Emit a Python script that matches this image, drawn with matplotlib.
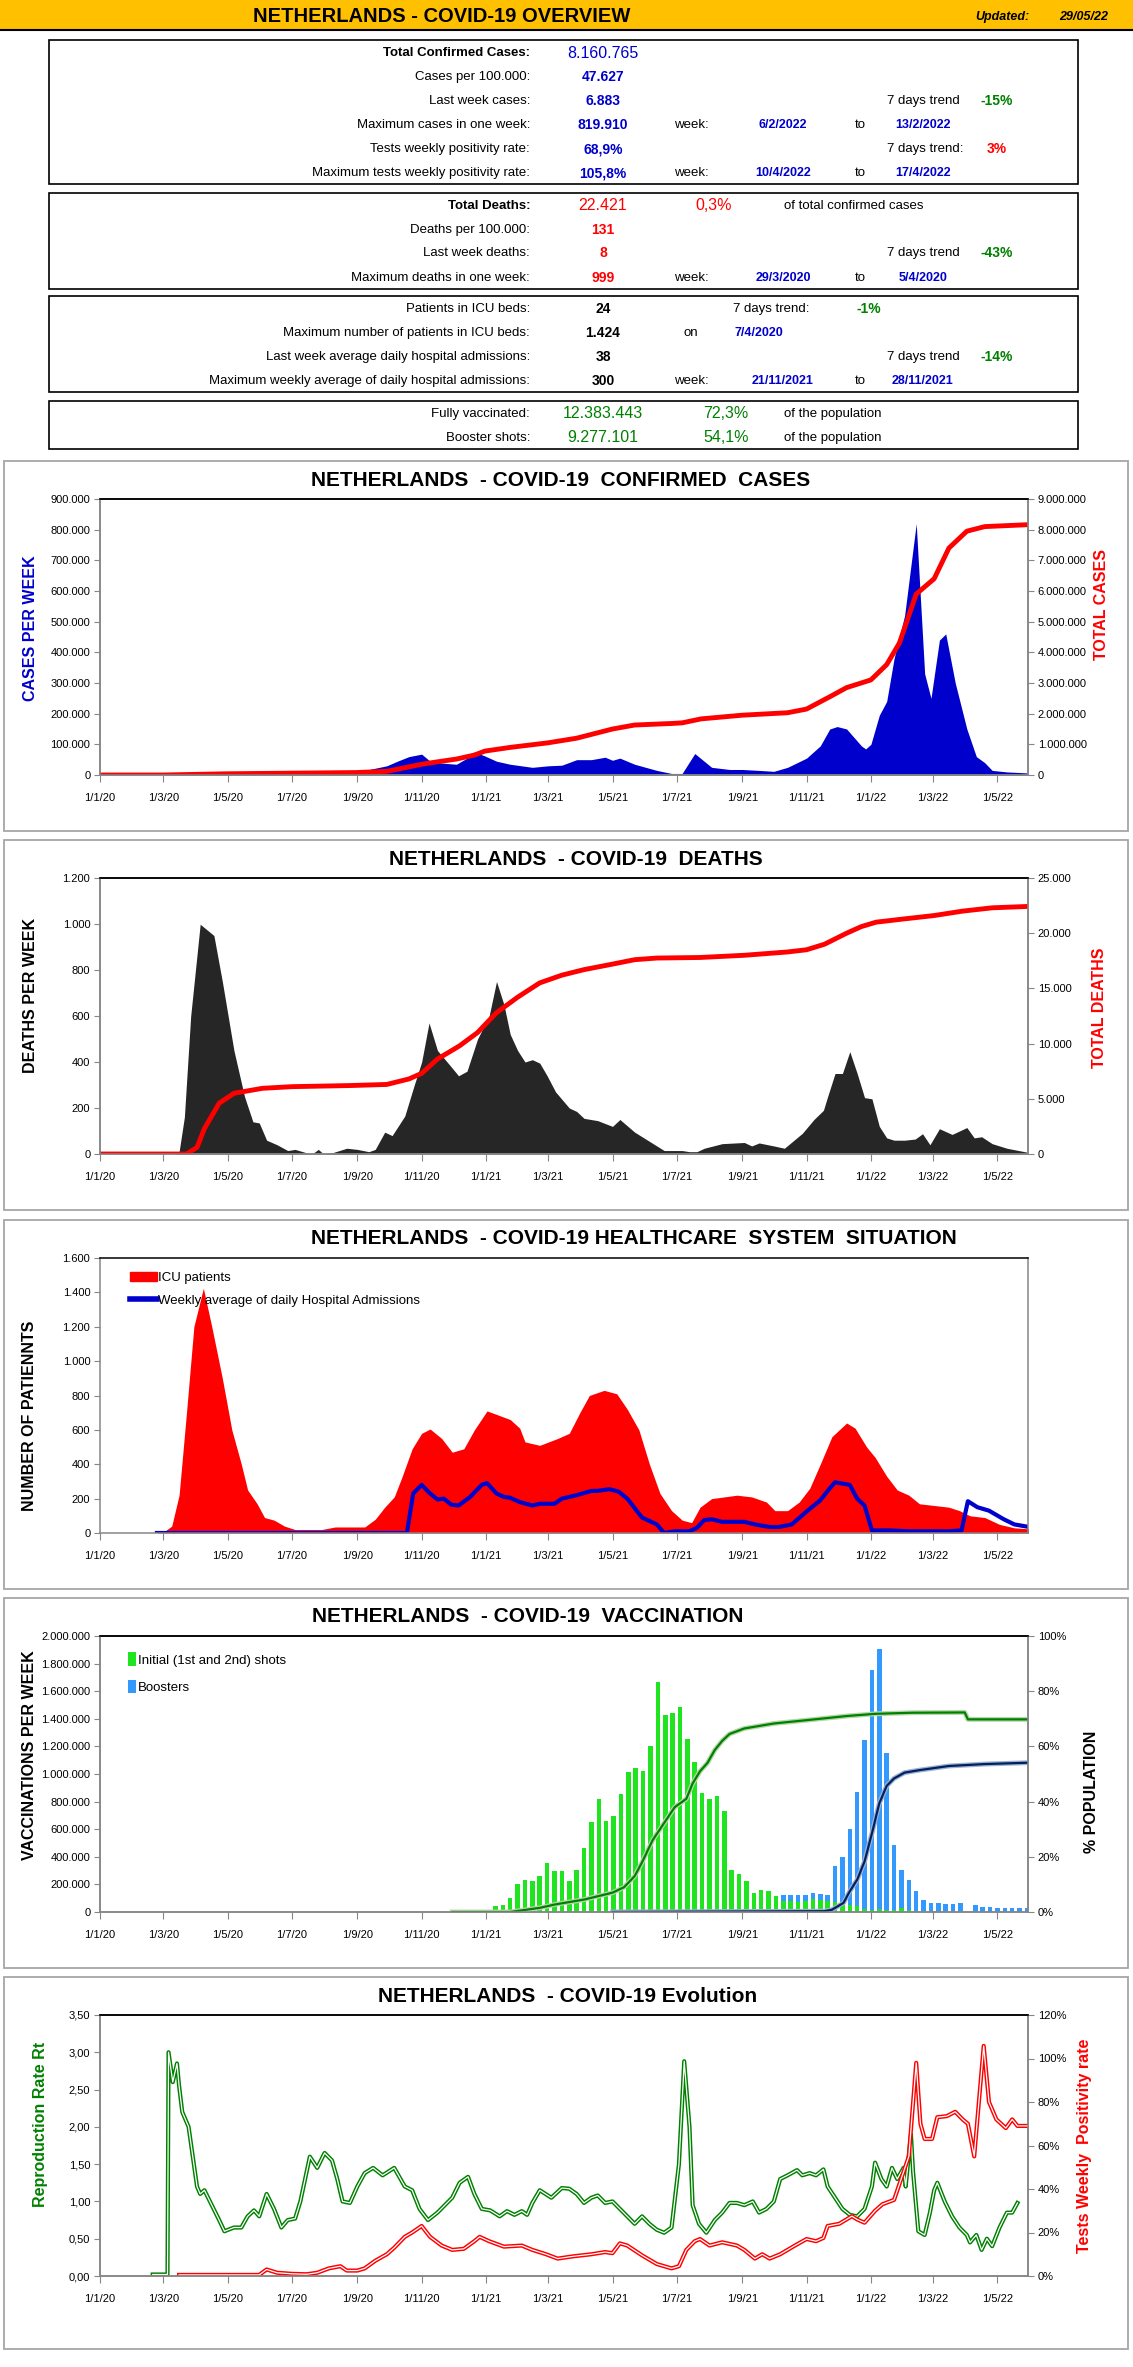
import numpy as np
import pandas as pd
import matplotlib
matplotlib.use("Agg")
import matplotlib.pyplot as plt
import matplotlib.dates as mdates
from matplotlib.patches import Rectangle, Patch
from matplotlib.lines import Line2D
from matplotlib.ticker import FuncFormatter, MultipleLocator

W, H = 1133, 2367
plt.rcParams["font.family"] = ["Liberation Sans", "DejaVu Sans"]

START = np.datetime64("2020-01-01")
END = np.datetime64("2022-05-30")

# --- weekly confirmed cases (days since 1/1/2020) ---
case_day = [0, 60, 75, 100, 120, 150, 180, 210, 230, 243, 258, 272, 282, 293, 305,
            313, 320, 338, 348, 355, 365, 376, 389, 410, 425, 438, 452, 466, 479,
            486, 493, 507, 528, 542, 552, 564, 580, 597, 609, 625, 639, 652, 670,
            683, 692, 699, 708, 722, 726, 731, 739, 746, 753, 763, 774, 782, 788,
            796, 802, 811, 822, 831, 839, 846, 860, 879]
case_week = [0, 0, 5000, 7500, 5000, 1500, 700, 2500, 4000, 8000, 20000, 30000, 45000,
             60000, 68000, 45000, 40000, 35000, 55000, 75000, 62000, 45000, 35000,
             25000, 30000, 32000, 50000, 50000, 58000, 48000, 55000, 35000, 15000,
             5000, 5000, 70000, 25000, 18000, 18000, 15000, 12000, 25000, 55000,
             95000, 150000, 158000, 150000, 95000, 85000, 100000, 195000, 240000,
             380000, 520000, 819910, 330000, 250000, 440000, 460000, 300000, 150000,
             60000, 40000, 15000, 10000, 6883]
total_day = [0, 60, 120, 243, 272, 305, 320, 338, 355, 365, 389, 425, 452, 486, 507,
             542, 552, 570, 609, 652, 670, 692, 708, 731, 746, 758, 767, 774, 791,
             805, 822, 839, 879]
total_cases = [0, 0, 40000, 80000, 120000, 350000, 430000, 520000, 650000, 780000,
               900000, 1050000, 1200000, 1500000, 1630000, 1680000, 1700000, 1830000,
               1950000, 2030000, 2150000, 2550000, 2850000, 3100000, 3600000, 4300000,
               5200000, 5900000, 6400000, 7400000, 7950000, 8100000, 8160765]

# --- deaths ---
death_day = [0, 71, 75, 80, 86, 95, 108, 116, 127, 137, 145, 151, 158, 168, 178, 185,
             196, 201, 207, 212, 220, 234, 244, 255, 261, 270, 277, 289, 298, 305,
             312, 320, 331, 340, 348, 358, 369, 376, 383, 389, 396, 403, 410, 417,
             424, 432, 445, 452, 459, 472, 486, 493, 507, 521, 535, 552, 559, 566,
             573, 590, 611, 618, 625, 639, 649, 666, 677, 686, 690, 697, 704, 711,
             718, 725, 732, 739, 746, 753, 763, 773, 780, 787, 796, 808, 822, 829,
             836, 846, 860, 879]
death_week = [0, 0, 10, 160, 600, 999, 950, 750, 450, 250, 140, 135, 60, 40, 15, 20,
              5, 0, 20, 0, 5, 25, 20, 10, 20, 95, 80, 165, 300, 400, 570, 450, 390,
              340, 360, 500, 600, 750, 650, 520, 450, 400, 410, 395, 340, 270, 200,
              185, 155, 145, 120, 150, 95, 55, 15, 15, 10, 10, 25, 45, 50, 35, 48,
              35, 25, 90, 150, 190, 250, 350, 350, 445, 350, 245, 240, 120, 70, 60,
              60, 65, 88, 40, 110, 85, 115, 70, 75, 45, 25, 8]
tdeath_day = [0, 82, 92, 99, 113, 127, 154, 182, 237, 272, 293, 305, 320, 341, 358,
              376, 396, 417, 438, 459, 486, 507, 528, 569, 611, 652, 670, 687, 708,
              722, 736, 763, 791, 818, 846, 879]
total_deaths = [0, 0, 600, 2300, 4600, 5500, 5950, 6100, 6200, 6300, 6800, 7300, 8600,
                9800, 11000, 12800, 14200, 15500, 16200, 16700, 17200, 17600, 17750,
                17800, 18000, 18300, 18500, 19000, 20000, 20600, 21000, 21300, 21600,
                22000, 22300, 22421]

# --- healthcare ---
icu_day = [54, 60, 68, 75, 82, 89, 98, 106, 116, 125, 134, 140, 149, 156, 165, 175,
           185, 210, 223, 251, 261, 270, 279, 286, 296, 305, 313, 324, 334, 345, 355,
           367, 376, 389, 398, 403, 417, 434, 445, 455, 464, 478, 490, 500, 511, 521,
           531, 542, 552, 561, 569, 580, 604, 618, 632, 640, 652, 663, 673, 683, 694,
           708, 716, 727, 735, 746, 756, 767, 777, 791, 805, 815, 825, 839, 853, 867,
           881]
icu_patients = [0, 5, 40, 220, 700, 1200, 1424, 1200, 900, 600, 400, 250, 170, 90, 75,
                40, 20, 20, 35, 35, 80, 150, 210, 320, 490, 580, 605, 550, 470, 490,
                600, 710, 690, 660, 610, 530, 510, 550, 580, 700, 800, 830, 810, 720,
                600, 400, 230, 130, 75, 60, 150, 200, 220, 210, 180, 130, 130, 180, 260,
                400, 560, 640, 610, 500, 440, 330, 250, 220, 170, 160, 150, 130, 100,
                90, 50, 30, 24]
adm_day = [54, 291, 297, 305, 313, 320, 326, 333, 340, 351, 362, 367, 376, 383, 389,
           398, 410, 417, 431, 438, 452, 466, 472, 483, 492, 500, 514, 528, 535, 545,
           559, 566, 573, 580, 590, 611, 621, 635, 644, 656, 670, 683, 692, 697, 711,
           718, 725, 732, 749, 767, 805, 817, 823, 832, 843, 857, 867, 881]
adm_avg = [0, 0, 230, 280, 230, 195, 200, 165, 160, 210, 280, 290, 230, 210, 205, 180,
           160, 170, 170, 200, 220, 245, 245, 255, 240, 200, 90, 50, 0, 10, 10, 30, 75,
           80, 65, 65, 50, 35, 35, 50, 125, 190, 260, 295, 280, 200, 160, 15, 15, 10,
           10, 15, 185, 150, 130, 80, 50, 35]

# --- vaccination (weekly from 10/1/2021) ---
vac_initial = [46000, 53000, 100000, 200000, 235000, 227000, 263000, 355000, 300000,
               295000, 227000, 306000, 465000, 653000, 820000, 660000, 696000, 855000,
               1015000, 1040000, 1020000, 1200000, 1667000, 1427000, 1443000, 1487000,
               1253000, 1085000, 860000, 820000, 841000, 733000, 306000, 277000, 222000,
               137000, 161000, 149000, 113000, 82000, 77000, 70000, 77000, 94000, 89000,
               77000, 70000, 60000, 53000, 46000, 24000, 17000, 22000, 12000, 17000,
               29000, 17000, 4000, 4000, 4000, 4000, 2000, 2000, 2000, 2000, 2000, 2000,
               2000, 2000, 2000, 2000, 2000, 2000]
vac_booster = [0] * 39 + [38000, 43000, 50000, 48000, 43000, 44000, 48000, 265000,
                          335000, 549000, 826000, 1222000, 1735000, 1882000, 1140000,
                          470000, 277000, 217000, 145000, 85000, 61000, 61000, 58000,
                          58000, 63000, 0, 51000, 37000, 37000, 29000, 29000, 29000,
                          29000, 29000]
full_day = [334, 389, 417, 431, 459, 486, 497, 507, 514, 524, 531, 538, 545, 556, 562,
            569, 576, 583, 590, 597, 611, 639, 670, 708, 735, 770, 820, 823, 881]
full_pct = [0, 0, 1.5, 2.7, 4.5, 7, 9, 13, 18, 26, 30, 34, 38, 41, 46.6, 51, 54, 58.7,
            62, 64.5, 66.5, 68.3, 69.5, 71, 71.8, 72.2, 72.3, 69.8, 69.8]
boost_day = [486, 687, 694, 705, 711, 718, 725, 732, 739, 746, 753, 763, 777, 805, 839,
             881]
boost_pct = [0, 0.3, 0.8, 3.3, 7.5, 11.7, 18.3, 28.5, 39.4, 45.7, 48.4, 50.5, 51.4,
             52.9, 53.6, 54.1]

# --- evolution ---
rt_day = [50, 64, 65, 69, 73, 75, 78, 84, 89, 92, 95, 99, 106, 113, 118, 127, 134, 140,
          146, 151, 158, 165, 172, 178, 185, 190, 199, 206, 213, 220, 225, 230, 237,
          244, 251, 259, 268, 279, 289, 296, 303, 311, 320, 327, 334, 341, 349, 355,
          362, 370, 379, 386, 393, 400, 405, 410, 417, 428, 438, 445, 452, 459, 466,
          472, 479, 486, 493, 500, 507, 514, 521, 528, 535, 542, 549, 554, 559, 562,
          568, 575, 583, 590, 597, 604, 611, 619, 625, 632, 639, 645, 652, 661, 666,
          673, 679, 686, 690, 697, 704, 711, 718, 725, 732, 735, 741, 746, 751, 756,
          762, 764, 769, 771, 776, 782, 787, 791, 794, 801, 808, 815, 822, 825, 831,
          836, 841, 846, 853, 860, 865, 870]
rt_value = [0.02, 0.02, 3.0, 2.6, 2.85, 2.55, 2.2, 2.0, 1.5, 1.2, 1.1, 1.15, 0.95, 0.75,
            0.6, 0.65, 0.65, 0.8, 0.88, 0.8, 1.1, 0.9, 0.65, 0.75, 0.77, 1.0, 1.6, 1.45,
            1.65, 1.55, 1.3, 1.0, 0.98, 1.2, 1.38, 1.45, 1.35, 1.45, 1.2, 1.15, 0.9,
            0.75, 0.85, 0.95, 1.05, 1.25, 1.33, 1.1, 0.9, 0.88, 0.8, 0.87, 0.82, 0.87,
            0.82, 0.98, 1.15, 1.05, 1.18, 1.17, 1.1, 0.98, 1.05, 1.08, 0.98, 1.0, 0.9,
            0.8, 0.7, 0.8, 0.7, 0.62, 0.58, 0.65, 1.5, 2.88, 2.0, 0.95, 0.7, 0.58, 0.75,
            0.85, 0.98, 0.98, 0.95, 1.0, 0.85, 0.9, 1.0, 1.3, 1.35, 1.42, 1.35, 1.38,
            1.35, 1.43, 1.2, 1.05, 0.9, 0.82, 0.8, 0.9, 1.2, 1.52, 1.3, 1.2, 1.45, 1.3,
            1.45, 1.2, 1.9, 1.4, 0.6, 0.55, 0.85, 1.15, 1.25, 1.0, 0.8, 0.65, 0.55,
            0.45, 0.55, 0.35, 0.5, 0.4, 0.65, 0.85, 0.85, 0.98]
pos_day = [75, 151, 158, 168, 182, 196, 206, 217, 228, 234, 244, 251, 261, 272, 279,
           289, 296, 305, 313, 324, 334, 345, 355, 360, 369, 383, 400, 410, 423, 434,
           448, 466, 479, 486, 493, 500, 514, 528, 542, 549, 556, 564, 569, 578, 590,
           604, 611, 621, 628, 635, 645, 659, 670, 679, 686, 690, 701, 713, 718, 725,
           735, 742, 753, 760, 767, 774, 778, 782, 789, 794, 803, 811, 818, 823, 829,
           838, 843, 850, 859, 865, 870, 881]
pos_rate = [0.5, 0.5, 3, 1.5, 1, 0.8, 1.5, 3.5, 4.5, 2.5, 2.5, 3.5, 7, 10, 13, 18, 20,
            23, 18, 14, 12, 12.5, 16, 18, 16, 13.5, 14, 12, 10, 8, 9, 10, 11, 10.5, 15,
            14, 9.5, 5.5, 3.5, 4.5, 12, 16, 17, 14, 15.5, 14, 12, 8, 10, 8, 10, 14, 17,
            16, 17.5, 23, 24, 27.5, 26, 24.5, 30, 33, 35, 45, 55, 98, 70, 63, 63, 73,
            73.5, 75.5, 72, 70, 55, 105.8, 80, 72, 68, 72, 69, 69]


def to_dates(days):
    return START + np.array(days, dtype="timedelta64[D]")


def thousands(v, _pos=None):
    return f"{v:,.0f}".replace(",", ".")


def date_label(v, _pos=None):
    d = mdates.num2date(v)
    return f"{d.day}/{d.month}/{d:%y}"


fig = plt.figure(figsize=(W / 100, H / 100), dpi=100)
fig.patch.set_facecolor("white")

AXIS_GRAY = "#868686"


def make_axes(left, top, right, bottom):
    return fig.add_axes([left / W, 1 - bottom / H, (right - left) / W, (bottom - top) / H])


def frame(x0, y0, x1, y1, color, lw):
    fig.add_artist(Rectangle((x0 / W, 1 - y1 / H), (x1 - x0) / W, (y1 - y0) / H,
                             transform=fig.transFigure, fill=False, ec=color, lw=lw))


def ftext(x, y, s, **kw):
    kw.setdefault("va", "center")
    fig.text(x / W, 1 - y / H, s, **kw)


def style_axes(ax, ymax, ystep, yfmt):
    ax.set_xlim(START, END)
    ax.set_ylim(0, ymax)
    ax.yaxis.set_major_locator(MultipleLocator(ystep))
    ax.yaxis.set_major_formatter(FuncFormatter(yfmt))
    ax.xaxis.set_major_locator(mdates.MonthLocator(bymonth=[1, 3, 5, 7, 9, 11]))
    ax.xaxis.set_major_formatter(FuncFormatter(date_label))
    ax.tick_params(axis="x", labelsize=8, length=5, pad=8, direction="out", color=AXIS_GRAY)
    ax.tick_params(axis="y", labelsize=8, length=4, pad=3, direction="out", color=AXIS_GRAY)
    for name, sp in ax.spines.items():
        sp.set_color("black" if name == "top" else AXIS_GRAY)
        sp.set_linewidth(1.1)


def style_right(ax2, ymax, ystep, yfmt):
    ax2.set_ylim(0, ymax)
    ax2.yaxis.set_major_locator(MultipleLocator(ystep))
    ax2.yaxis.set_major_formatter(FuncFormatter(yfmt))
    ax2.tick_params(axis="y", labelsize=8, length=4, pad=3, direction="out", color=AXIS_GRAY)
    for name, sp in ax2.spines.items():
        sp.set_color("black" if name == "top" else AXIS_GRAY)
        sp.set_linewidth(1.1)


def title(x, y, s):
    ftext(x, y, s, ha="center", fontsize=15, fontweight="bold")


def ylabel(x, y, s, color, size=11.5):
    ftext(x, y, s, ha="center", rotation=90, color=color, fontsize=size, fontweight="bold")


# ---------------- header ----------------
fig.add_artist(Rectangle((0, 1 - 30 / H), 1, 30 / H, transform=fig.transFigure,
                         fc="#FFC000", ec="none"))
fig.add_artist(Line2D([0, 1], [1 - 30 / H] * 2, transform=fig.transFigure, color="black", lw=1.5))
ftext(442, 16, "NETHERLANDS - COVID-19 OVERVIEW", ha="center", fontsize=14.5, fontweight="bold")
ftext(975, 17, "Updated:", ha="left", fontsize=9, fontweight="bold", style="italic")
ftext(1108, 17, "29/05/22", ha="right", fontsize=9, fontweight="bold", style="italic")

BLUE_T = "#0000CC"
GREEN_T = "#008000"
RED_T = "#FF0000"

for (y0, y1) in [(40, 184), (193, 289), (296, 392), (401, 449)]:
    frame(49, y0, 1078, y1, "black", 1.2)

LX, VX, WX, D1, TX, D2, TR, TV = 530, 603, 674, 783, 855, 923, 887, 997


def label(y, s, bold=False):
    ftext(LX, y, s, ha="right", fontsize=9.5, fontweight="bold" if bold else "normal")


def value(x, y, s, color, size=10, bold=True):
    ftext(x, y, s, ha="center", fontsize=size, color=color,
          fontweight="bold" if bold else "normal")


def plain(x, y, s, ha="left"):
    ftext(x, y, s, ha=ha, fontsize=9.5)


# box 1
label(53, "Total Confirmed Cases:", bold=True)
value(VX, 53, "8.160.765", BLUE_T, size=11.5, bold=False)
label(77, "Cases per 100.000:")
value(VX, 77, "47.627", BLUE_T)
label(101, "Last week cases:")
value(VX, 101, "6.883", BLUE_T)
plain(TR, 101, "7 days trend")
value(TV, 101, "-15%", GREEN_T)
label(125, "Maximum cases in one week:")
value(VX, 125, "819.910", BLUE_T)
plain(WX, 125, "week:")
value(D1, 125, "6/2/2022", BLUE_T, size=9)
plain(TX, 125, "to")
value(D2, 125, "13/2/2022", BLUE_T, size=9)
label(149, "Tests weekly positivity rate:")
value(VX, 149, "68,9%", BLUE_T)
plain(TR, 149, "7 days trend:")
value(TV, 149, "3%", RED_T)
label(173, "Maximum tests weekly positivity rate:")
value(VX, 173, "105,8%", BLUE_T)
plain(WX, 173, "week:")
value(D1, 173, "10/4/2022", BLUE_T, size=9)
plain(TX, 173, "to")
value(D2, 173, "17/4/2022", BLUE_T, size=9)

# box 2
label(206, "Total Deaths:", bold=True)
value(VX, 206, "22.421", RED_T, size=11.5, bold=False)
value(714, 206, "0,3%", RED_T, size=11.5, bold=False)
plain(784, 206, "of total confirmed cases")
label(230, "Deaths per 100.000:")
value(VX, 230, "131", RED_T)
label(253, "Last week deaths:")
value(VX, 253, "8", RED_T)
plain(TR, 253, "7 days trend")
value(TV, 253, "-43%", GREEN_T)
label(278, "Maximum deaths in one week:")
value(VX, 278, "999", RED_T)
plain(WX, 278, "week:")
value(D1, 278, "29/3/2020", BLUE_T, size=9)
plain(TX, 278, "to")
value(D2, 278, "5/4/2020", BLUE_T, size=9)

# box 3
label(309, "Patients in ICU beds:")
value(VX, 309, "24", "black")
plain(733, 309, "7 days trend:")
value(869, 309, "-1%", GREEN_T)
label(333, "Maximum number of patients in ICU beds:")
value(VX, 333, "1.424", "black")
plain(683, 333, "on")
value(759, 333, "7/4/2020", BLUE_T, size=9)
label(357, "Last week average daily hospital admissions:")
value(VX, 357, "38", "black")
plain(TR, 357, "7 days trend")
value(TV, 357, "-14%", GREEN_T)
label(381, "Maximum weekly average of daily hospital admissions:")
value(VX, 381, "300", "black")
plain(WX, 381, "week:")
value(D1, 381, "21/11/2021", BLUE_T, size=9)
plain(TX, 381, "to")
value(D2, 381, "28/11/2021", BLUE_T, size=9)

# box 4
label(414, "Fully vaccinated:")
value(VX, 414, "12.383.443", GREEN_T, size=11.5, bold=False)
value(726, 414, "72,3%", GREEN_T, size=11.5, bold=False)
plain(784, 414, "of the population")
label(438, "Booster shots:")
value(VX, 438, "9.277.101", GREEN_T, size=11.5, bold=False)
value(726, 438, "54,1%", GREEN_T, size=11.5, bold=False)
plain(784, 438, "of the population")

# ---------------- panel borders ----------------
for (y0, y1) in [(461, 831), (840, 1210), (1220, 1589), (1598, 1968), (1977, 2349)]:
    frame(4, y0, 1128, y1, "#A6A6A6", 1.3)

# ---------------- panel 1: cases ----------------
ax = make_axes(100, 499, 1028, 775)
ax.fill_between(to_dates(case_day), case_week, color="#0000CC", lw=0)
style_axes(ax, 900000, 100000, thousands)
ax2 = ax.twinx()
ax2.plot(to_dates(total_day), total_cases, color="#FF0000", lw=3.5, solid_capstyle="round")
style_right(ax2, 9000000, 1000000, thousands)
title(561, 480, "NETHERLANDS  - COVID-19  CONFIRMED  CASES")
ylabel(31, 628, "CASES PER WEEK", "#0000CC")
ylabel(1102, 604, "TOTAL CASES", "#FF0000")

# ---------------- panel 2: deaths ----------------
ax = make_axes(100, 878, 1028, 1154)
ax.fill_between(to_dates(death_day), death_week, color="#262626", lw=0)
style_axes(ax, 1200, 200, thousands)
ax2 = ax.twinx()
ax2.plot(to_dates(tdeath_day), total_deaths, color="#FF0000", lw=3.5, solid_capstyle="round")
style_right(ax2, 25000, 5000, thousands)
title(576, 859, "NETHERLANDS  - COVID-19  DEATHS")
ylabel(31, 995, "DEATHS PER WEEK", "black")
ylabel(1100, 1008, "TOTAL DEATHS", "#FF0000")

# ---------------- panel 3: healthcare ----------------
ax = make_axes(100, 1258, 1028, 1533)
ax.fill_between(to_dates(icu_day), icu_patients, color="#FF0000", lw=0)
ax.plot(to_dates(adm_day), adm_avg, color="#0000CC", lw=3)
style_axes(ax, 1600, 200, thousands)
ax.legend(handles=[Patch(color="#FF0000", label="ICU patients"),
                   Line2D([], [], color="#0000CC", lw=4,
                          label="Weekly average of daily Hospital Admissions")],
          loc="upper left", bbox_to_anchor=(0.027, 0.97), frameon=False, fontsize=9.5,
          handlelength=2.0, handletextpad=0.1, labelspacing=0.8, borderaxespad=0)
title(634, 1238, "NETHERLANDS  - COVID-19 HEALTHCARE  SYSTEM  SITUATION")
ylabel(30, 1416, "NUMBER OF PATIENNTS", "black")

# ---------------- panel 4: vaccination ----------------
ax = make_axes(100, 1636, 1028, 1912)
vac_weeks = pd.date_range("2021-01-10", periods=len(vac_initial), freq="7D")
ax.bar(vac_weeks, vac_initial, width=4.3, color="#1FE41F", lw=0,
       label="Initial (1st and 2nd) shots")
ax.bar(vac_weeks, vac_booster, width=4.3, bottom=vac_initial, color="#3399FF", lw=0,
       label="Boosters")
style_axes(ax, 2000000, 200000, thousands)
ax.legend(loc="upper left", bbox_to_anchor=(0.024, 0.96), frameon=False, fontsize=9.5,
          handlelength=0.65, handleheight=1.2, handletextpad=0.15, labelspacing=1.0,
          borderaxespad=0)
ax2 = ax.twinx()
ax2.plot(to_dates(full_day), full_pct, color="#B5D6A8", lw=3.5)
ax2.plot(to_dates(full_day), full_pct, color="#008000", lw=1.6)
ax2.plot(to_dates(boost_day), boost_pct, color="#9DB0CF", lw=3.5)
ax2.plot(to_dates(boost_day), boost_pct, color="#002060", lw=1.6)
style_right(ax2, 100, 20, lambda v, p: f"{v:.0f}%")
title(528, 1617, "NETHERLANDS  - COVID-19  VACCINATION")
ylabel(30, 1755, "VACCINATIONS PER WEEK", "black")
ylabel(1092, 1792, "% POPULATION", "black")

# ---------------- panel 5: evolution ----------------
ax = make_axes(100, 2015, 1028, 2276)
ax.plot(to_dates(rt_day), rt_value, color="#008000", lw=3.0)
ax.plot(to_dates(rt_day), rt_value, color="white", lw=0.9)
style_axes(ax, 3.5, 0.5, lambda v, p: f"{v:.2f}".replace(".", ","))
ax2 = ax.twinx()
ax2.plot(to_dates(pos_day), pos_rate, color="#FF0000", lw=3.0)
ax2.plot(to_dates(pos_day), pos_rate, color="white", lw=0.9)
style_right(ax2, 120, 20, lambda v, p: f"{v:.0f}%")
title(568, 1997, "NETHERLANDS  - COVID-19 Evolution")
ylabel(41, 2124, "Reproduction Rate Rt", "#008000")
ylabel(1085, 2146, "Tests Weekly  Positivity rate", "#FF0000")

fig.savefig("out.png", dpi=100, facecolor="white")
